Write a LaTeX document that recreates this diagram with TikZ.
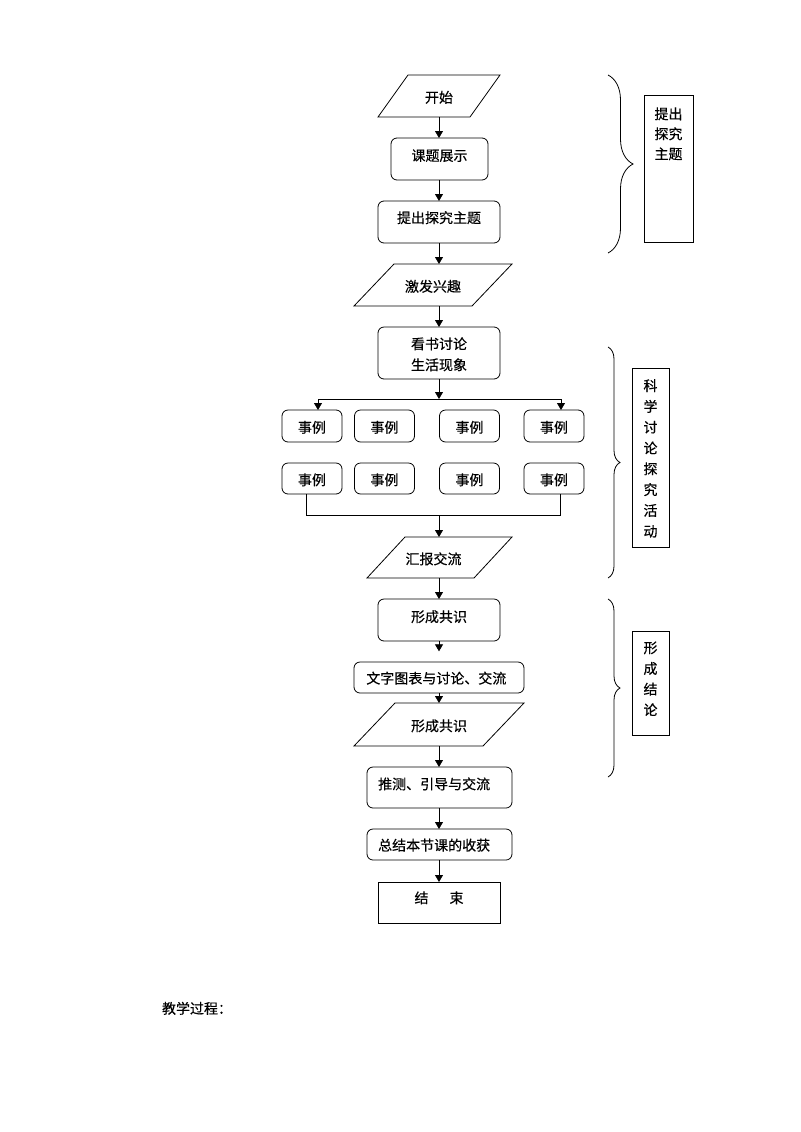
\documentclass[tikz,border=0pt]{standalone}
\usepackage{fontspec}
\setmainfont{Noto Sans CJK SC}[FakeBold=0.4]
\usetikzlibrary{arrows.meta,calc,decorations.pathreplacing}
\newcommand\mypara[2]{%
  \draw[ln] ($(#1.north west)+(#2,0)$) -- ($(#1.north east)+(#2,0)$) -- ($(#1.south east)-(#2,0)$) -- ($(#1.south west)-(#2,0)$) -- cycle;}
\begin{document}
\begin{tikzpicture}[x=0.75pt,y=-0.75pt,
  every node/.style={font=\fontsize{10.5pt}{15pt}\selectfont, inner sep=0pt, outer sep=0pt},
  sz/.style 2 args={minimum width=#1*0.75pt, minimum height=#2*0.75pt},
  rbox/.style={draw, line width=0.6pt, rounded corners=4.5pt},
  sbox/.style={draw, line width=0.6pt},
  pbox/.style={draw=none},
  ln/.style={line width=0.6pt},
  arr/.style={ln, -{Triangle[length=5.25pt,width=6pt]}},
  br/.style={ln, decorate, decoration={brace, amplitude=#1}}
]
\useasboundingbox (0,0) rectangle (800,1132);
\coordinate (ax) at (439,0);

% main column
\node[pbox, sz={92}{42}, label={[yshift=-1pt]center:开始}] (start) at (439,96) {};
\mypara{start}{15}
\node[rbox, sz={97}{42}, label={[yshift=2.5pt]center:课题展示}] (ktzs) at (439.5,159) {};
\node[rbox, sz={122}{42}, label={[yshift=3.25pt]center:提出探究主题}] (tczt) at (439,222) {};
\node[pbox, sz={118}{42}, label={[yshift=-1pt]center:激发兴趣}] (jfxq) at (433,285) {};
\mypara{jfxq}{20}
\node[rbox, sz={122}{52}, label={[align=center, font=\fontsize{10.5pt}{15.75pt}\selectfont, yshift=-1pt]center:看书讨论\\生活现象}] (kssh) at (439,353) {};

\foreach \n/\x in {1/312,2/384.5,3/469.5,4/554}{
  \node[rbox, sz={60}{32}, label={[yshift=-1pt]center:事例}] (ea\n) at (\x,426) {};
  \node[rbox, sz={60}{31}, label={[yshift=-1pt]center:事例}] (eb\n) at (\x,478.5) {};
}

\node[pbox, sz={107}{41}, label={[xshift=-4.5pt,yshift=-1pt]center:汇报交流}] (hbjl) at (439.5,557.5) {};
\mypara{hbjl}{19}
\node[rbox, sz={122}{42}, label={[yshift=2.5pt]center:形成共识}] (xcgs1) at (439,620) {};
\node[rbox, sz={170}{31}, label={[xshift=-2pt,yshift=-0.5pt]center:文字图表与讨论、交流}] (wztb) at (439,677.5) {};
\node[pbox, sz={129}{43}, label={[yshift=-1pt]center:形成共识}] (xcgs2) at (439,724.5) {};
\mypara{xcgs2}{20.5}
\node[rbox, sz={145}{41}, label={[xshift=-4pt,yshift=2.7pt]center:推测、引导与交流}] (ccyd) at (439.5,787.5) {};
\node[rbox, sz={145}{31}, label={[xshift=-4pt,yshift=-0.5pt]center:总结本节课的收获}] (zjbj) at (439.5,844.5) {};
\node[sbox, sz={122}{41}, label={[yshift=3.5pt]center:结\hspace{15.75pt}束}] (fin) at (439,902.5) {};

% arrows
\draw[arr] (start.south -| ax) -- (ktzs.north -| ax);
\draw[arr] (ktzs.south -| ax) -- (tczt.north -| ax);
\draw[arr] (tczt.south -| ax) -- (jfxq.north -| ax);
\draw[arr] (jfxq.south -| ax) -- (kssh.north -| ax);
\coordinate (sl) at (318,399);
\coordinate (sr) at (561,399);
\coordinate (sm) at (439,399);
\draw[arr] (kssh.south -| ax) -- (sm);
\draw[ln] (sl) -- (sr);
\draw[arr] (sl) -- (sl |- ea1.north);
\draw[arr] (sr) -- (sr |- ea4.north);
\coordinate (bl) at (306,515);
\coordinate (bR) at (560,515);
\coordinate (bm) at (439,515);
\draw[ln] (bl |- eb1.south) -- (bl) -- (bR) -- (bR |- eb4.south);
\draw[arr] (bm) -- (hbjl.north -| ax);
\draw[arr] (hbjl.south -| ax) -- (xcgs1.north -| ax);
\draw[arr, shorten >=8pt] (xcgs1.south -| ax) -- (wztb.north -| ax);
\draw[arr] (wztb.south -| ax) -- (xcgs2.north -| ax);
\draw[arr] (xcgs2.south -| ax) -- (ccyd.north -| ax);
\draw[arr] (ccyd.south -| ax) -- (zjbj.north -| ax);
\draw[arr] (zjbj.south -| ax) -- (fin.north -| ax);

% braces
\draw[br=18.75pt] (608,75) -- (608,253);
\draw[br=9pt] (608,347) -- (608,578);
\draw[br=9pt] (608,599) -- (608,777);

% side boxes
\node[sbox, sz={49}{147}, label={[align=center, yshift=26pt]center:提出\\探究\\主题}] (sa) at (668.5,168.5) {};
\node[sbox, sz={37}{179}, label={[align=center, font=\fontsize{10.5pt}{15.6pt}\selectfont, yshift=-0.7pt]center:科\\学\\讨\\论\\探\\究\\活\\动}] (sb) at (650.5,457.5) {};
\node[sbox, sz={37}{104}, label={[align=center, font=\fontsize{10.5pt}{15.5pt}\selectfont, yshift=3.2pt]center:形\\成\\结\\论}] (sc) at (650.5,683) {};

\node[anchor=west, yshift=-1pt] (jxgc) at (162,1007) {教学过程：};
\end{tikzpicture}
\end{document}
